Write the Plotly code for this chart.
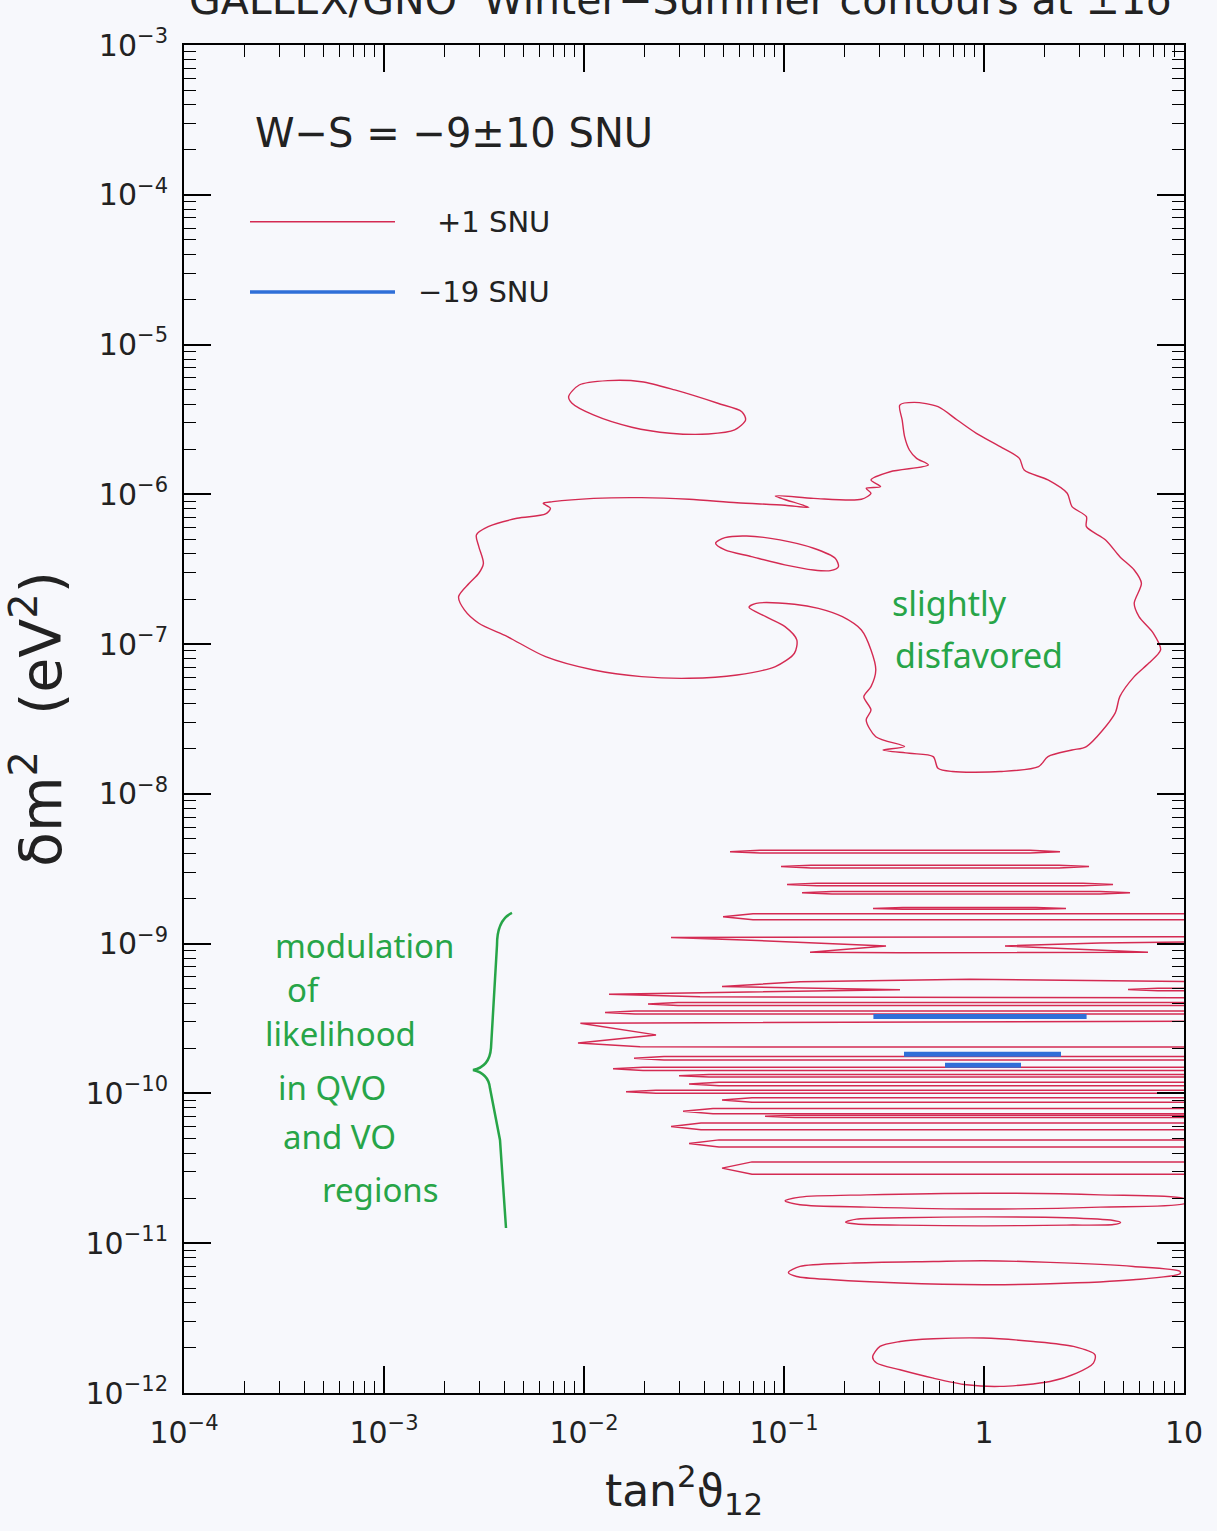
import numpy as np
import plotly.graph_objects as go

# ---------------- colours / fonts ----------------
RED = "#d42a52"
BLUE = "#2f6fd8"
GREEN = "#27a548"
BG = "#f7f8fc"
FONT = "DejaVu Sans, Liberation Sans, Arial, sans-serif"
HAND = "Noto Sans, sans-serif"

# ---------------- data (log10 tan^2 theta12, log10 dm^2 / eV^2) ----------------
# small isolated contour near 5e-6 eV^2
top_oval_lx = [-2.077, -2.024, -1.881, -1.713, -1.546, -1.331, -1.211, -1.192, -1.247, -1.378,
               -1.570, -1.761, -1.953, -2.060, -2.077]
top_oval_ly = [-5.348, -5.270, -5.241, -5.248, -5.303, -5.392, -5.448, -5.503, -5.570, -5.597,
               -5.592, -5.552, -5.470, -5.392, -5.348]

# small contour inside the LMA/LOW region
mid_oval_lx = [-1.342, -1.295, -1.187, -1.020, -0.852, -0.744, -0.728, -0.768, -0.852, -0.996,
               -1.163, -1.295, -1.342]
mid_oval_ly = [-6.326, -6.289, -6.278, -6.304, -6.360, -6.427, -6.483, -6.509, -6.505, -6.471,
               -6.416, -6.371, -6.326]

# large contour (LMA/LOW + "slightly disfavored" lobe)
big_lx = [-2.204, -2.156, -1.952, -1.713, -1.474, -1.235, -0.995, -0.876, -1.043, -0.852,
          -0.613, -0.565, -0.589, -0.517, -0.565, -0.469, -0.278, -0.337, -0.373, -0.397,
          -0.409, -0.421, -0.349, -0.230, -0.134, -0.038, 0.081, 0.177, 0.201, 0.320,
          0.416, 0.440, 0.512, 0.512, 0.608, 0.679, 0.751, 0.787, 0.751, 0.775,
          0.847, 0.883, 0.823, 0.751, 0.679, 0.655, 0.512, 0.440, 0.320, 0.273,
          0.081, -0.158, -0.230, -0.254, -0.373, -0.505, -0.397, -0.541, -0.589, -0.565,
          -0.601, -0.565, -0.541, -0.565, -0.613, -0.708, -0.828, -0.948, -1.139, -1.175,
          -1.091, -0.995, -0.936, -0.948, -1.043, -1.235, -1.474, -1.713, -1.952, -2.192,
          -2.383, -2.526, -2.598, -2.627, -2.574, -2.526, -2.503, -2.526, -2.538, -2.479,
          -2.335, -2.192, -2.168, -2.204]
big_ly = [-6.060, -6.049, -6.027, -6.022, -6.033, -6.056, -6.073, -6.087, -6.011, -6.027,
          -6.033, -5.993, -5.960, -5.949, -5.904, -5.849, -5.804, -5.760, -5.704, -5.615,
          -5.504, -5.404, -5.386, -5.415, -5.504, -5.593, -5.682, -5.760, -5.838, -5.904,
          -5.993, -6.082, -6.149, -6.216, -6.305, -6.416, -6.505, -6.594, -6.728, -6.817,
          -6.928, -7.039, -7.128, -7.217, -7.351, -7.462, -7.684, -7.707, -7.751, -7.818,
          -7.851, -7.851, -7.829, -7.751, -7.729, -7.707, -7.684, -7.618, -7.506, -7.440,
          -7.351, -7.284, -7.173, -7.039, -6.906, -6.817, -6.761, -6.734, -6.728, -6.754,
          -6.817, -6.883, -6.972, -7.061, -7.150, -7.206, -7.228, -7.217, -7.173, -7.084,
          -6.950, -6.861, -6.772, -6.683, -6.594, -6.527, -6.461, -6.349, -6.271, -6.216,
          -6.160, -6.131, -6.093, -6.060]

# thin elongated contours in the QVO / VO region (right end > 1 runs past the frame)
lens_left = [-1.270, -1.015, -0.985, -0.910, -0.555, -1.305, 0.720, -1.680, -1.895, -1.750,
             -1.855, -1.525, -1.475, -1.790, -1.310, -1.505, -1.095, -1.565, -1.475, -1.310]
lens_right = [0.380, 0.525, 0.645, 0.730, 0.410, 1.60, 1.60, 1.60, 1.60, 1.60,
              1.60, 1.60, 1.60, 1.60, 1.60, 1.60, 1.60, 1.60, 1.60, 1.60]
lens_top = [-8.377, -8.477, -8.597, -8.651, -8.758, -8.801, -9.298, -9.393, -9.449, -9.754,
            -9.825, -9.874, -9.925, -9.978, -10.029, -10.101, -10.146, -10.198, -10.310, -10.457]
lens_bot = [-8.394, -8.494, -8.614, -8.668, -8.771, -8.841, -9.315, -9.413, -9.469, -9.776,
            -9.846, -9.891, -9.949, -9.998, -10.058, -10.136, -10.160, -10.243, -10.358, -10.540]

# folded (zig-zag) contours
fold1_lx = [1.58, -1.565, -1.200, -0.490, -0.870, -0.420, 0.820, 0.105, 0.580, 1.58, 1.58]
fold1_ly = [-8.952, -8.958, -8.975, -9.015, -9.058, -9.061, -9.058, -9.015, -8.995, -8.981, -8.952]
fold2_lx = [1.58, -0.070, -0.920, -1.310, -0.420, -1.875, -1.420, 1.58, 1.58]
fold2_ly = [-9.262, -9.237, -9.255, -9.286, -9.308, -9.337, -9.355, -9.362, -9.262]
fold3_lx = [1.58, -2.018, -1.640, -2.030, -1.720, 1.58, 1.58]
fold3_ly = [-9.515, -9.531, -9.609, -9.664, -9.689, -9.691, -9.515]

# closed ovals in the VO region
vo1_lx = [-0.995, -0.920, -0.587, -0.003, 0.580, 1.010, 1.010, 0.580, -0.003, -0.587, -0.920, -0.995]
vo1_ly = [-10.717, -10.692, -10.677, -10.666, -10.677, -10.706, -10.732, -10.759, -10.772, -10.759,
          -10.743, -10.717]
vo2_lx = [-0.692, -0.637, -0.420, -0.003, 0.413, 0.647, 0.683, 0.647, 0.413, -0.003, -0.420, -0.637, -0.692]
vo2_ly = [-10.859, -10.839, -10.830, -10.824, -10.830, -10.848, -10.861, -10.875, -10.879, -10.884,
          -10.879, -10.872, -10.859]
vo3_lx = [-0.978, -0.920, -0.670, -0.253, -0.003, 0.330, 0.747, 0.980, 0.980, 0.747, 0.330, -0.003,
          -0.420, -0.753, -0.937, -0.978]
vo3_ly = [-11.195, -11.155, -11.133, -11.122, -11.117, -11.128, -11.155, -11.188, -11.204, -11.244,
          -11.271, -11.277, -11.266, -11.244, -11.222, -11.195]
vo4_lx = [-0.557, -0.520, -0.420, -0.253, -0.003, 0.247, 0.447, 0.555, 0.547, 0.463, 0.330, 0.080,
          -0.087, -0.253, -0.420, -0.537, -0.557]
vo4_ly = [-11.760, -11.689, -11.656, -11.638, -11.633, -11.656, -11.689, -11.745, -11.800, -11.867,
          -11.923, -11.956, -11.945, -11.901, -11.845, -11.800, -11.760]

# -19 SNU contours (very thin, drawn as thick segments)
blue_left = [-0.553, -0.400, -0.195]
blue_right = [0.513, 0.385, 0.185]
blue_ly = [-9.487, -9.738, -9.811]

# axis ticks
x_tick_exp = [-4, -3, -2, -1, 0, 1]
x_tick_text = ["10<sup>\u22124</sup>", "10<sup>\u22123</sup>", "10<sup>\u22122</sup>",
               "10<sup>\u22121</sup>", "1", "10"]
y_tick_exp = [-12, -11, -10, -9, -8, -7, -6, -5, -4, -3]
y_tick_text = ["10<sup>\u2212%d</sup>" % (-e) for e in y_tick_exp]


def p10(a):
    return [None if v is None else 10.0 ** v for v in a]


fig = go.Figure()

# smooth contours
for lx, ly in [(top_oval_lx, top_oval_ly), (mid_oval_lx, mid_oval_ly), (big_lx, big_ly),
               (vo1_lx, vo1_ly), (vo2_lx, vo2_ly), (vo3_lx, vo3_ly), (vo4_lx, vo4_ly)]:
    fig.add_trace(go.Scatter(x=p10(lx), y=p10(ly), mode="lines",
                             line=dict(color=RED, width=1.4, shape="spline", smoothing=0.8),
                             hoverinfo="skip", showlegend=False))

# thin lenses
TAPER = 0.15
lx_all, ly_all = [], []
for xl, xr, yt, yb in zip(lens_left, lens_right, lens_top, lens_bot):
    yc = (yt + yb) / 2
    lx_all += [xl, xl + TAPER, xr - TAPER, xr, xr - TAPER, xl + TAPER, xl, None]
    ly_all += [yc, yt, yt, yc, yb, yb, yc, None]
for fx, fy in [(fold1_lx, fold1_ly), (fold2_lx, fold2_ly), (fold3_lx, fold3_ly)]:
    lx_all += list(fx) + [None]
    ly_all += list(fy) + [None]
fig.add_trace(go.Scatter(x=p10(lx_all), y=p10(ly_all), mode="lines",
                         line=dict(color=RED, width=1.5), hoverinfo="skip", showlegend=False))

# blue -19 SNU contours
bx, by = [], []
for xl, xr, yc in zip(blue_left, blue_right, blue_ly):
    bx += [xl, xr, None]
    by += [yc, yc, None]
fig.add_trace(go.Scatter(x=p10(bx), y=p10(by), mode="lines",
                         line=dict(color=BLUE, width=5), hoverinfo="skip", showlegend=False))

axis_common = dict(
    type="log", showgrid=False, zeroline=False,
    showline=True, linewidth=2, linecolor="black", mirror="allticks",
    ticks="inside", ticklen=27, tickwidth=1.5, tickcolor="black",
    minor=dict(ticks="inside", ticklen=12, tickwidth=1.2, tickcolor="black",
               dtick="D1", showgrid=False),
    tickfont=dict(family=FONT, size=30, color="#222"),
    tickmode="array",
)

fig.update_xaxes(**axis_common, range=[-4, 1],
                 tickvals=p10(x_tick_exp), ticktext=x_tick_text, ticklabelstandoff=12,
                 title=dict(text="tan<sup>2</sup>\u03d1<sub>12</sub>",
                            font=dict(family=FONT, size=44, color="#222"), standoff=26))
fig.update_yaxes(**axis_common, range=[-12, -3],
                 tickvals=p10(y_tick_exp), ticktext=y_tick_text, ticklabelstandoff=8,
                 title=dict(text="\u03b4m<sup>2</sup>\u00a0\u00a0(eV<sup>2</sup>)",
                            font=dict(family=FONT, size=57, color="#222"), standoff=9))

annotations = [
    dict(text="GALLEX/GNO\u00a0\u00a0Winter\u2212Summer contours at \u00b11\u03c3",
         x=0.003, y=1.0334, xanchor="left", yanchor="middle",
         font=dict(family=FONT, size=41, color="#222")),
    dict(text="W\u2212S = \u22129\u00b110 SNU", x=0.069, y=0.9347, xanchor="left", yanchor="middle",
         font=dict(family=FONT, size=40, color="#222")),
    dict(text="+1 SNU", x=0.368, y=0.8689, xanchor="right", yanchor="middle",
         font=dict(family=FONT, size=29, color="#222")),
    dict(text="\u221219 SNU", x=0.368, y=0.8168, xanchor="right", yanchor="middle",
         font=dict(family=FONT, size=29, color="#222")),
    dict(text="slightly", x=0.706, y=0.586, xanchor="left", yanchor="middle",
         font=dict(family=HAND, size=34, color=GREEN)),
    dict(text="disfavored", x=0.709, y=0.5475, xanchor="left", yanchor="middle",
         font=dict(family=HAND, size=34, color=GREEN)),
    dict(text="modulation", x=0.089, y=0.3323, xanchor="left", yanchor="middle",
         font=dict(family=HAND, size=33, color=GREEN)),
    dict(text="of", x=0.101, y=0.299, xanchor="left", yanchor="middle",
         font=dict(family=HAND, size=33, color=GREEN)),
    dict(text="likelihood", x=0.079, y=0.267, xanchor="left", yanchor="middle",
         font=dict(family=HAND, size=33, color=GREEN)),
    dict(text="in QVO", x=0.092, y=0.227, xanchor="left", yanchor="middle",
         font=dict(family=HAND, size=33, color=GREEN)),
    dict(text="and VO", x=0.097, y=0.190, xanchor="left", yanchor="middle",
         font=dict(family=HAND, size=33, color=GREEN)),
    dict(text="regions", x=0.136, y=0.1506, xanchor="left", yanchor="middle",
         font=dict(family=HAND, size=33, color=GREEN)),
]
for a in annotations:
    a.update(xref="paper", yref="paper", showarrow=False)

shapes = [
    dict(type="line", xref="paper", yref="paper", x0=0.066, x1=0.211, y0=0.8689, y1=0.8689,
         line=dict(color=RED, width=1.4)),
    dict(type="line", xref="paper", yref="paper", x0=0.066, x1=0.211, y0=0.8168, y1=0.8168,
         line=dict(color=BLUE, width=3.5)),
    dict(type="path", xref="paper", yref="paper",
         path="M 0.328 0.3561 C 0.316 0.352, 0.313 0.343, 0.313 0.3323 "
              "L 0.307 0.256 C 0.306 0.246, 0.299 0.241, 0.289 0.2396 "
              "C 0.299 0.238, 0.305 0.234, 0.306 0.226 "
              "L 0.316 0.1877 L 0.322 0.1224",
         line=dict(color=GREEN, width=2.5)),
]

fig.update_layout(
    width=1217, height=1531, autosize=False,
    margin=dict(l=184, r=33, t=45, b=138),
    paper_bgcolor=BG, plot_bgcolor=BG,
    showlegend=False,
    annotations=annotations, shapes=shapes,
    font=dict(family=FONT, color="#222"),
)

fig.write_html("out.html")
